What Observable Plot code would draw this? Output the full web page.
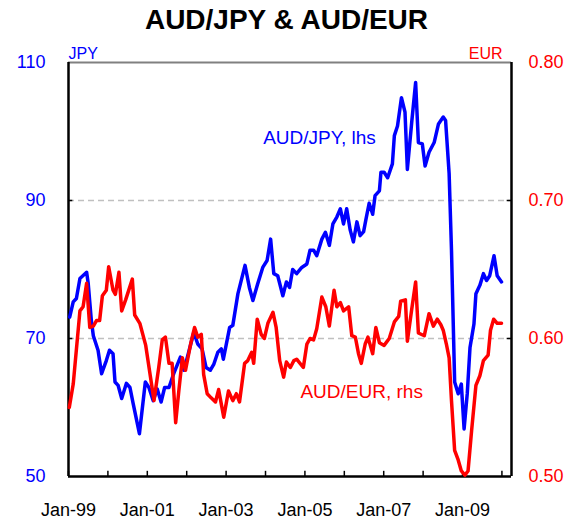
<!DOCTYPE html>
<html>
<head>
<meta charset="utf-8">
<script src="https://cdn.jsdelivr.net/npm/d3@7"></script>
<script src="https://cdn.jsdelivr.net/npm/@observablehq/plot@0.6"></script>
<style>
  html, body { margin: 0; padding: 0; background: #fff; }
  #wrap { width: 573px; height: 521px; font-family: "Liberation Sans", Arial, sans-serif; }
  #title { height: 40px; box-sizing: border-box; padding-top: 6px; text-align: center; font-size: 28px; font-weight: bold; line-height: 28px; color: #000; }
  svg { display: block; }
</style>
</head>
<body>
<div id="wrap">
  <div id="title">AUD/JPY &amp; AUD/EUR</div>
  <div id="chart"></div>
</div>
<script>
// AUD/JPY (left axis), decimal years and values
const jpyT = [1999.03,1999.12,1999.20,1999.29,1999.46,1999.50,1999.58,1999.63,1999.75,1999.84,1999.96,
  2000.04,2000.13,2000.18,2000.26,2000.35,2000.47,2000.56,2000.64,2000.80,2000.95,
  2001.04,2001.15,2001.25,2001.35,2001.44,2001.55,2001.67,2001.84,2001.93,
  2002.05,2002.18,2002.28,2002.39,2002.49,2002.60,2002.69,2002.79,2002.88,2002.93,
  2003.09,2003.17,2003.30,2003.48,2003.59,2003.68,2003.80,2003.93,
  2004.04,2004.13,2004.21,2004.31,2004.44,2004.53,2004.61,2004.69,2004.79,2004.92,
  2005.05,2005.13,2005.22,2005.30,2005.43,2005.52,2005.62,2005.71,2005.81,2005.90,2005.98,
  2006.06,2006.15,2006.23,2006.32,2006.40,2006.49,2006.55,2006.63,2006.72,2006.78,2006.89,2006.93,
  2007.01,2007.10,2007.22,2007.27,2007.35,2007.45,2007.54,2007.60,2007.71,2007.81,2007.88,2007.98,
  2008.05,2008.15,2008.28,2008.39,2008.51,2008.57,2008.66,2008.72,2008.80,2008.89,2008.97,
  2009.04,2009.12,2009.19,2009.29,2009.34,2009.44,2009.53,2009.61,2009.69,2009.80,2009.88,2009.99];
const jpyV = [73.1,75.3,75.8,78.7,79.6,78.0,72.6,70.4,68.3,64.9,66.8,
  68.3,67.8,63.7,63.2,61.3,63.5,62.9,60.6,56.2,63.7,
  62.9,61.0,62.7,60.8,62.9,62.9,64.9,67.3,65.4,
  68.0,70.9,69.2,68.5,65.8,65.4,66.3,68.0,68.5,67.0,
  71.6,71.9,76.5,80.6,77.4,75.5,77.9,80.3,
  81.3,84.4,79.4,79.1,76.2,78.2,77.4,80.0,79.4,80.3,
  80.8,82.8,82.8,82.0,84.4,85.4,83.5,86.6,87.6,88.8,86.6,
  88.8,85.7,84.0,86.9,84.9,85.5,87.3,89.6,88.0,90.7,91.4,94.1,
  94.1,93.3,95.3,99.4,100.8,104.9,102.8,94.5,101.3,107.1,98.4,98.2,
  95.0,97.0,98.4,101.1,102.1,101.6,93.9,82.8,63.7,62.0,63.4,
  56.9,62.0,68.7,72.1,76.5,77.7,79.4,78.4,79.1,82.0,79.1,78.2];

// AUD/EUR (right axis), decimal years and values
const eurT = [1999.02,1999.12,1999.29,1999.37,1999.46,1999.54,1999.63,1999.71,1999.79,1999.86,1999.96,
  2000.02,2000.13,2000.19,2000.28,2000.35,2000.45,2000.62,2000.68,2000.81,2000.96,
  2001.17,2001.29,2001.38,2001.46,2001.55,2001.63,2001.72,2001.80,2001.89,2001.97,
  2002.10,2002.20,2002.28,2002.37,2002.43,2002.52,2002.62,2002.73,2002.81,2002.94,
  2003.06,2003.17,2003.26,2003.34,2003.47,2003.55,2003.65,2003.70,2003.79,2003.89,2003.97,
  2004.06,2004.19,2004.27,2004.36,2004.46,2004.53,2004.63,2004.72,2004.79,2004.96,
  2005.05,2005.13,2005.22,2005.30,2005.43,2005.53,2005.62,2005.74,2005.81,2005.90,2005.98,
  2006.11,2006.19,2006.28,2006.36,2006.43,2006.53,2006.60,2006.72,2006.80,2006.89,
  2007.01,2007.14,2007.27,2007.38,2007.43,2007.55,2007.60,2007.71,2007.81,2007.88,
  2008.03,2008.15,2008.26,2008.36,2008.45,2008.51,2008.59,2008.66,2008.72,2008.80,2008.89,2008.97,
  2009.06,2009.14,2009.23,2009.34,2009.44,2009.53,2009.65,2009.71,2009.79,2009.88,2009.99];
const eurV = [0.550,0.567,0.620,0.623,0.640,0.608,0.609,0.613,0.613,0.631,0.635,
  0.652,0.635,0.632,0.648,0.620,0.628,0.643,0.617,0.611,0.595,
  0.555,0.579,0.599,0.601,0.582,0.582,0.539,0.562,0.586,0.577,
  0.596,0.608,0.601,0.603,0.574,0.560,0.557,0.554,0.563,0.543,
  0.562,0.555,0.560,0.554,0.582,0.584,0.590,0.582,0.614,0.603,0.600,
  0.611,0.619,0.608,0.584,0.572,0.583,0.579,0.584,0.585,0.579,
  0.596,0.600,0.599,0.607,0.630,0.623,0.609,0.635,0.623,0.626,0.620,
  0.623,0.602,0.601,0.589,0.582,0.596,0.601,0.589,0.608,0.597,
  0.595,0.600,0.612,0.616,0.627,0.628,0.598,0.621,0.641,0.604,
  0.602,0.618,0.609,0.614,0.610,0.606,0.596,0.586,0.555,0.519,0.512,0.504,
  0.501,0.504,0.533,0.566,0.573,0.584,0.588,0.606,0.614,0.611,0.611];

const yearTicks = [1999,2000,2001,2002,2003,2004,2005,2006,2007,2008,2009,2010];
const labelYears = [1999,2001,2003,2005,2007,2009];
const xLabels = ["Jan-99","Jan-01","Jan-03","Jan-05","Jan-07","Jan-09"];
const jpyTicks = [50,70,90,110];
const eurTicks = [0.50,0.60,0.70,0.80];

// map the right-hand (EUR) scale onto the left-hand (JPY) scale
const eurToJpy = e => 50 + (e - 0.5) * 200;
const jpyToEur = j => 0.5 + (j - 50) / 200;

const jpy = jpyT.map((t, i) => ({t, v: jpyV[i]}));
const eur = eurT.map((t, i) => ({t, v: eurToJpy(eurV[i])}));
const xStart = 1999, xEnd = 2010.243;
const tickLenY = 0.75;   // inward tick length in y units (~5px)
const tickLenX = 0.11;   // inward tick length in x units (~4px)

const chart = Plot.plot({
  width: 573,
  height: 481,
  marginTop: 22,
  marginBottom: 45,
  marginLeft: 68,
  marginRight: 62,
  x: {type: "linear", domain: [xStart, xEnd]},
  y: {domain: [50, 110]},
  style: {fontFamily: "'Liberation Sans', Arial, sans-serif", fontSize: "18px", background: "#fff", overflow: "visible"},
  marks: [
    Plot.ruleY([70, 90], {stroke: "#c0c0c0", strokeWidth: 1.5, strokeDasharray: "6,4"}),
    Plot.ruleY([110], {stroke: "#808080", strokeWidth: 2}),
    Plot.ruleX([xStart, xEnd], {stroke: "#000", strokeWidth: 2.5}),
    Plot.ruleY([50], {stroke: "#000", strokeWidth: 2.5}),
    // inward tick marks
    Plot.ruleX(yearTicks, {y1: 50, y2: 50 + tickLenY, stroke: "#000", strokeWidth: 1.5}),
    Plot.ruleY([70, 90], {x1: xStart, x2: xStart + tickLenX, stroke: "#000", strokeWidth: 1.5}),
    Plot.ruleY([70, 90], {x1: xEnd - tickLenX, x2: xEnd, stroke: "#000", strokeWidth: 1.5}),
    // labels
    Plot.axisX(labelYears, {tickSize: 0, tickPadding: 27, tickFormat: d => xLabels[labelYears.indexOf(d)], fill: "#000", fontSize: 18, label: null}),
    Plot.axisY(jpyTicks, {anchor: "left", tickSize: 0, tickPadding: 23, tickFormat: d => String(d), fill: "#0000ff", fontSize: 18, label: null}),
    Plot.axisY(eurTicks.map(eurToJpy), {anchor: "right", tickSize: 0, tickPadding: 17, tickFormat: d => d3.format(".2f")(jpyToEur(d)), fill: "#ff0000", fontSize: 18, label: null}),
    // series
    Plot.line(jpy, {x: "t", y: "v", stroke: "#0000ff", strokeWidth: 3.5, strokeLinejoin: "round"}),
    Plot.line(eur, {x: "t", y: "v", stroke: "#ff0000", strokeWidth: 3.5, strokeLinejoin: "round"}),
    // annotations
    Plot.text(["AUD/JPY, lhs"], {x: 2005.37, y: 99.0, text: d => d, fill: "#0000ff", fontSize: 19}),
    Plot.text(["AUD/EUR, rhs"], {x: 2006.44, y: 62.2, text: d => d, fill: "#ff0000", fontSize: 19}),
    Plot.text(["JPY"], {frameAnchor: "top-left", text: d => d, dy: -15, textAnchor: "start", fill: "#0000ff", fontSize: 16}),
    Plot.text(["EUR"], {frameAnchor: "top-right", text: d => d, dy: -15, dx: -9, textAnchor: "end", fill: "#ff0000", fontSize: 16})
  ]
});
document.getElementById("chart").appendChild(chart);
</script>
</body>
</html>
